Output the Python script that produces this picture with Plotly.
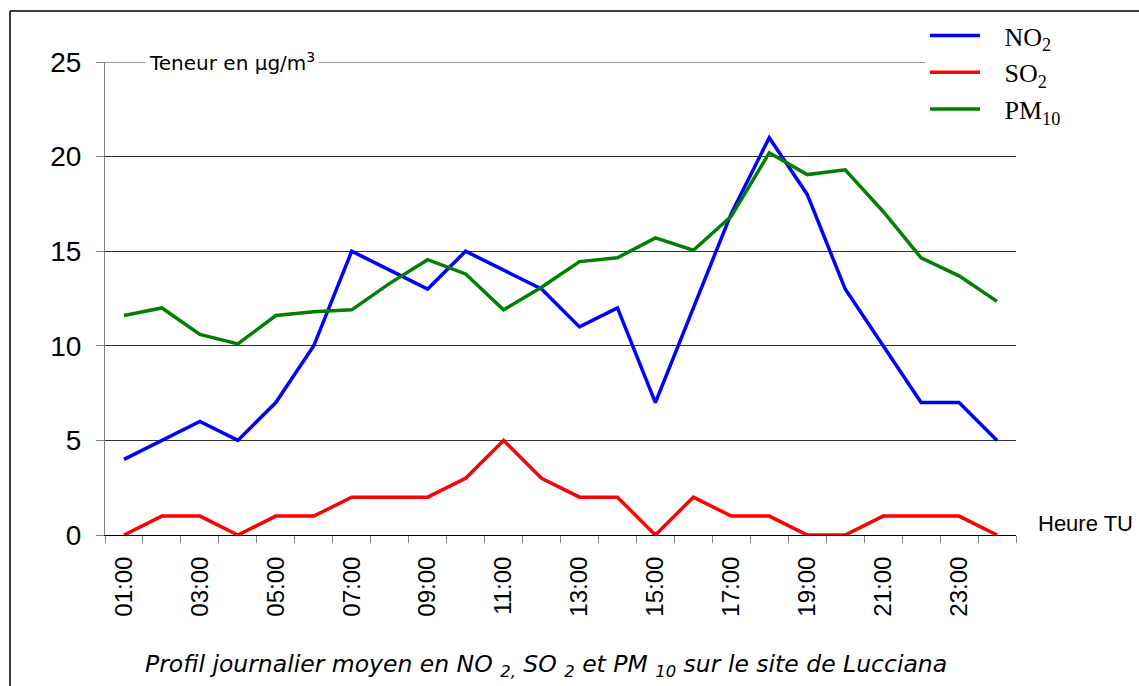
import plotly.graph_objects as go

hours = ["01:00", "02:00", "03:00", "04:00", "05:00", "06:00", "07:00", "08:00",
         "09:00", "10:00", "11:00", "12:00", "13:00", "14:00", "15:00", "16:00",
         "17:00", "18:00", "19:00", "20:00", "21:00", "22:00", "23:00", "24:00"]
no2 = [4, 5, 6, 5, 7, 10, 15, 14, 13, 15, 14, 13, 11, 12, 7, 12, 17, 21, 18, 13, 10, 7, 7, 5]
so2 = [0, 1, 1, 0, 1, 1, 2, 2, 2, 3, 5, 3, 2, 2, 0, 2, 1, 1, 0, 0, 1, 1, 1, 0]
pm10 = [11.6, 12.0, 10.6, 10.1, 11.6, 11.8, 11.9, 13.3, 14.55, 13.8, 11.9, 13.1,
        14.45, 14.65, 15.7, 15.05, 16.85, 20.2, 19.05, 19.3, 17.1, 14.65, 13.7, 12.35]
yticks = [0, 5, 10, 15, 20, 25]

xpos = list(range(1, len(hours) + 1))
label_pos = xpos[::2]
label_txt = hours[::2]
boundaries = [p - 0.5 for p in xpos] + [xpos[-1] + 0.5]

NB = "\u00a0"
series = [
    (NB * 3 + "NO<sub>2</sub>", no2, "#0000FF"),
    (NB * 3 + "SO<sub>2</sub>", so2, "#FF0000"),
    (NB * 3 + "PM<sub>10</sub>", pm10, "#008000"),
]

fig = go.Figure()
for name, vals, col in series:
    fig.add_trace(go.Scatter(x=xpos, y=vals, mode="lines", name=name,
                             line=dict(color=col, width=3.5)))

W, H = 1139, 686
L, R, T, B = 105, 123, 62, 151
pw, ph = W - L - R, H - T - B

def px(xp):
    return (xp - L) / pw

def py(yp):
    return (H - B - yp) / ph

fig.update_layout(
    width=W, height=H,
    margin=dict(l=L, r=R, t=T, b=B, pad=0),
    paper_bgcolor="white", plot_bgcolor="white",
    font=dict(family="Liberation Sans, Arial", color="black"),
    showlegend=True,
    legend=dict(x=px(925), y=py(12), xanchor="left", yanchor="top",
                bgcolor="white", borderwidth=0,
                font=dict(family="Liberation Serif, Times New Roman", size=26, color="black"),
                itemwidth=50, tracegroupgap=0),
    xaxis=dict(range=[0.5, len(hours) + 0.5], tickmode="array",
               tickvals=label_pos, ticktext=label_txt, tickangle=-90,
               ticks="", showgrid=False, zeroline=False,
               showline=True, linecolor="black", linewidth=1,
               tickfont=dict(size=24, family="Liberation Sans, Arial"),
               ticklabelstandoff=11,
               minor=dict(ticks="outside", tickmode="array", tickvals=boundaries,
                          ticklen=7, tickcolor="#808080", tickwidth=1, showgrid=False)),
    yaxis=dict(range=[0, 25], tickmode="array", tickvals=yticks,
               ticks="outside", ticklen=8, tickcolor="#808080",
               showgrid=True, gridcolor="#333333", gridwidth=1,
               zeroline=False, showline=True, linecolor="#808080", linewidth=1,
               tickfont=dict(size=28, family="Liberation Sans, Arial"),
               ticklabelstandoff=9),
)

# top gridline at the upper limit of the y range
fig.add_shape(type="line", xref="paper", yref="y", x0=0, x1=1, y0=yticks[-1], y1=yticks[-1],
              line=dict(color="#333333", width=1), layer="below")

fig.add_annotation(xref="paper", yref="y", x=px(145), y=yticks[-1], xanchor="left",
                   yanchor="middle", text="Teneur en µg/m<sup>3</sup>",
                   showarrow=False, bgcolor="white", borderpad=3,
                   font=dict(size=20, family="DejaVu Sans", color="black"))
fig.add_annotation(xref="paper", yref="y", x=px(1036), y=0.6, xanchor="left",
                   yanchor="middle", text="Heure TU", showarrow=False,
                   font=dict(size=22, family="Liberation Sans, Arial", color="black"))
fig.add_annotation(xref="paper", yref="paper", x=px(546), y=py(665), xanchor="center",
                   yanchor="middle",
                   text="<i>Profil journalier moyen en NO <sub>2,</sub> SO <sub>2</sub> et PM <sub>10</sub> sur le site de Lucciana</i>",
                   showarrow=False,
                   font=dict(size=23.5, family="DejaVu Sans", color="black"))

# outer frame (left and top edges)
fig.add_shape(type="line", xref="paper", yref="paper", x0=px(10), x1=px(10),
              y0=py(11), y1=py(H), line=dict(color="black", width=1.5))
fig.add_shape(type="line", xref="paper", yref="paper", x0=px(10), x1=px(W),
              y0=py(11), y1=py(11), line=dict(color="black", width=1.5))

fig.write_html("out.html", config={"displayModeBar": False},
               post_script="document.body.style.margin='0px';")
